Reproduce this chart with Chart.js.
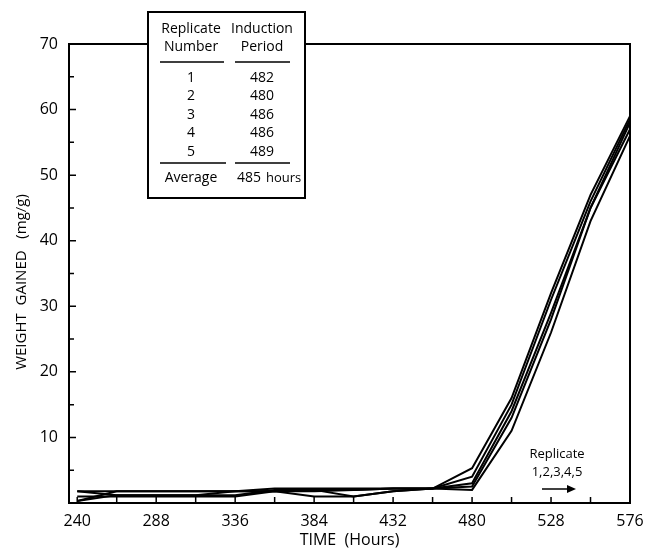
<!DOCTYPE html>
<html>
<head>
<meta charset="utf-8">
<script src="https://cdn.jsdelivr.net/npm/chart.js@4.4.1/dist/chart.umd.min.js"></script>
<style>
  html, body { margin: 0; padding: 0; background: #fff; }
  #wrap { width: 645px; height: 554px; position: relative; }
</style>
</head>
<body>
<div id="wrap"><canvas id="chart"></canvas></div>
<script>
// sampling times (hours)
const hours = [240, 264, 288, 312, 336, 360, 384, 408, 432, 456, 480, 504, 528, 552, 576];

// weight gained (mg/g) per replicate
const rep1 = [1.8, 1.8, 1.8, 1.8, 1.8, 2.2, 2.2, 2.2, 2.2, 2.2, 5.3, 16, 32, 47, 59];
const rep2 = [0.3, 1.8, 1.8, 1.8, 1.8, 1.8, 2.0, 2.0, 2.2, 2.2, 4.0, 15, 31, 46, 58.5];
const rep3 = [1.0, 1.0, 1.0, 1.0, 1.0, 1.8, 1.0, 1.0, 1.8, 2.2, 3.0, 14, 29, 45, 58];
const rep4 = [1.8, 1.2, 1.2, 1.2, 1.2, 2.0, 2.0, 1.0, 1.8, 2.2, 2.5, 13, 28, 45, 57];
const rep5 = [0.3, 1.2, 1.2, 1.2, 1.8, 1.8, 1.8, 2.0, 2.2, 2.2, 2.0, 11, 26, 43, 56];

// inset table
const replicateNumbers = ['1', '2', '3', '4', '5'];
const inductionPeriods = ['482', '480', '486', '486', '489'];
const averagePeriod = '485';

// axis ticks
const xTicks = [240, 264, 288, 312, 336, 360, 384, 408, 432, 456, 480, 504, 528, 552, 576];
const xLabeled = [240, 288, 336, 384, 432, 480, 528, 576];
const yTicks = [5, 10, 15, 20, 25, 30, 35, 40, 45, 50, 55, 60, 65, 70];
const yLabeled = [10, 20, 30, 40, 50, 60, 70];

const FONT = '"Open Sans", "DejaVu Sans", sans-serif';

const series = [rep1, rep2, rep3, rep4, rep5].map((vals, i) => ({
  label: 'Replicate ' + (i + 1),
  data: hours.map((h, j) => ({ x: h, y: vals[j] })),
  borderColor: '#000',
  borderWidth: 2,
  pointRadius: 0,
  tension: 0,
  fill: false
}));

// frame, inward ticks, inset table and the replicate note
const decorations = {
  id: 'decorations',
  afterDraw(chart) {
    const ctx = chart.ctx;
    const { left, right, top, bottom } = chart.chartArea;
    const xs = chart.scales.x, ys = chart.scales.y;
    ctx.save();
    ctx.strokeStyle = '#000';
    ctx.lineWidth = 2;
    ctx.strokeRect(left, top, right - left, bottom - top);

    ctx.lineWidth = 1.5;
    ctx.beginPath();
    xTicks.forEach(v => {
      const px = xs.getPixelForValue(v);
      ctx.moveTo(px, bottom);
      ctx.lineTo(px, bottom - 6);
    });
    yTicks.forEach(v => {
      const py = ys.getPixelForValue(v);
      const len = yLabeled.includes(v) ? 7 : 5;
      ctx.moveTo(left, py);
      ctx.lineTo(left + len, py);
    });
    ctx.stroke();

    // inset table
    const bx = 148, by = 12, bw = 157, bh = 186;
    ctx.fillStyle = '#fff';
    ctx.fillRect(bx, by, bw, bh);
    ctx.lineWidth = 2;
    ctx.strokeRect(bx, by, bw, bh);

    ctx.fillStyle = '#000';
    ctx.font = '14px ' + FONT;
    ctx.textAlign = 'center';
    ctx.textBaseline = 'middle';
    const c1 = 191, c2 = 262;
    ctx.fillText('Replicate', c1, 29);
    ctx.fillText('Number', c1, 47);
    ctx.fillText('Induction', c2, 29);
    ctx.fillText('Period', c2, 47);

    ctx.lineWidth = 1.5;
    ctx.beginPath();
    ctx.moveTo(160, 62); ctx.lineTo(224, 62);
    ctx.moveTo(235, 62); ctx.lineTo(290, 62);
    ctx.moveTo(160, 163); ctx.lineTo(226, 163);
    ctx.moveTo(235, 163); ctx.lineTo(290, 163);
    ctx.stroke();

    replicateNumbers.forEach((n, i) => {
      const y = 78 + i * 18.5;
      ctx.fillText(n, c1, y);
      ctx.fillText(inductionPeriods[i], c2, y);
    });
    ctx.fillText('Average', c1, 178);
    ctx.textAlign = 'left';
    ctx.fillText(averagePeriod, 237, 178);
    ctx.font = '13px ' + FONT;
    ctx.fillText('hours', 266, 178);

    // replicate note with arrow
    ctx.textAlign = 'center';
    ctx.font = '13px ' + FONT;
    ctx.fillText('Replicate', 557, 454);
    ctx.fillText('1,2,3,4,5', 557, 472);
    ctx.lineWidth = 1.5;
    ctx.beginPath();
    ctx.moveTo(542, 489); ctx.lineTo(570, 489);
    ctx.stroke();
    ctx.beginPath();
    ctx.moveTo(576, 489); ctx.lineTo(567, 485); ctx.lineTo(567, 493);
    ctx.closePath();
    ctx.fill();

    // y title, rotated
    ctx.save();
    ctx.translate(22, 282);
    ctx.rotate(-Math.PI / 2);
    ctx.font = '15px ' + FONT;
    ctx.fillText('WEIGHT  GAINED   (mg/g)', 0, 0);
    ctx.restore();

    ctx.restore();
  }
};

new Chart(document.getElementById('chart'), {
  type: 'line',
  data: { datasets: series },
  options: {
    responsive: true,
    maintainAspectRatio: false,
    animation: false,
    layout: { padding: { left: 0, right: 15, top: 44, bottom: 0 } },
    plugins: {
      legend: { display: false },
      tooltip: { enabled: false }
    },
    scales: {
      x: {
        type: 'linear',
        min: 235,
        max: 576,
        afterBuildTicks: scale => { scale.ticks = xTicks.map(v => ({ value: v })); },
        afterFit: scale => { scale.height = 51; },
        grid: { display: false },
        border: { display: false },
        ticks: {
          autoSkip: false,
          maxRotation: 0,
          padding: 1,
          color: '#000',
          font: { family: FONT, size: 16 },
          callback: v => xLabeled.includes(v) ? String(v) : ''
        },
        title: {
          display: true,
          text: 'TIME  (Hours)',
          color: '#000',
          padding: { top: 0, bottom: 4 },
          font: { family: FONT, size: 16 }
        }
      },
      y: {
        min: 0,
        max: 70,
        afterBuildTicks: scale => { scale.ticks = yTicks.map(v => ({ value: v })); },
        afterFit: scale => { scale.width = 69; },
        grid: { display: false },
        border: { display: false },
        ticks: {
          autoSkip: false,
          padding: 3,
          color: '#000',
          font: { family: FONT, size: 16 },
          callback: v => yLabeled.includes(v) ? String(v) : ''
        }
      }
    }
  },
  plugins: [decorations]
});
</script>
</body>
</html>
